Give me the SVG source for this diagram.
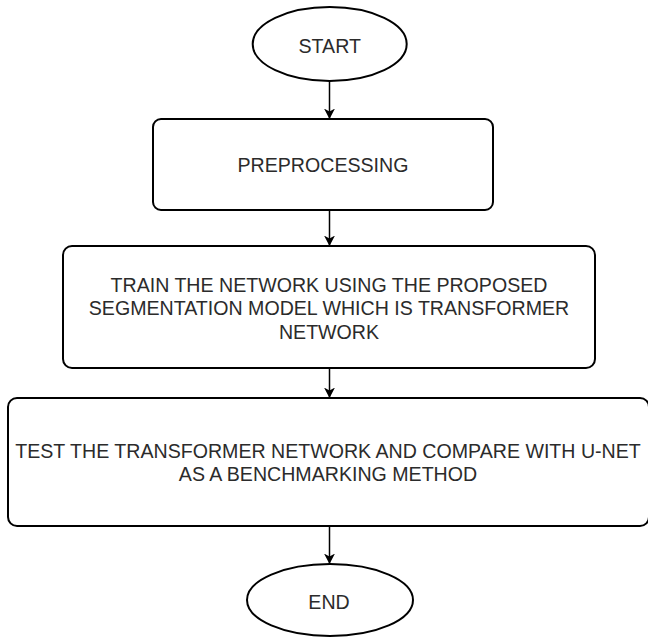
<svg xmlns="http://www.w3.org/2000/svg" width="648" height="638" viewBox="0 0 648 638">
  <style>
    .shape { fill: #ffffff; stroke: #000000; stroke-width: 2; }
    .label { font-family: "Liberation Sans", Arial, sans-serif; font-size: 19.6px; fill: #2b2b2b; text-anchor: middle; }
    .edge { fill: none; stroke: #000000; stroke-width: 1.5; marker-end: url(#arrow); }
  </style>
  <defs>
    <marker id="arrow" markerUnits="userSpaceOnUse" markerWidth="11" markerHeight="12" viewBox="0 0 11 12" refX="10.5" refY="6" orient="auto">
      <path d="M0,0.5 L10.5,6 L0,11.5 L3,6 Z" fill="#000000"/>
    </marker>
  </defs>
  <rect width="648" height="638" fill="#ffffff"/>

  <g id="connectors">
    <path class="edge" d="M329.5,81 V119"/>
    <path class="edge" d="M329.5,210 V246"/>
    <path class="edge" d="M329.5,368 V398"/>
    <path class="edge" d="M329.5,526 V564"/>
  </g>

  <g id="start">
    <ellipse class="shape" cx="329.7" cy="44" rx="77" ry="37"/>
    <text class="label" x="329.7" y="52.5">START</text>
  </g>

  <g id="preprocessing">
    <rect class="shape" x="153" y="119" width="340" height="91" rx="8"/>
    <text class="label" x="323" y="171.5">PREPROCESSING</text>
  </g>

  <g id="train">
    <rect class="shape" x="63" y="246" width="532" height="122" rx="9"/>
    <text class="label" x="329" y="291.5">TRAIN THE NETWORK USING THE PROPOSED</text>
    <text class="label" x="329" y="315">SEGMENTATION MODEL WHICH IS TRANSFORMER</text>
    <text class="label" x="329" y="338.5">NETWORK</text>
  </g>

  <g id="test">
    <rect class="shape" x="8" y="398" width="641" height="128" rx="9"/>
    <text class="label" x="328" y="457.5">TEST THE TRANSFORMER NETWORK AND COMPARE WITH U-NET</text>
    <text class="label" x="328" y="481">AS A BENCHMARKING METHOD</text>
  </g>

  <g id="end">
    <ellipse class="shape" cx="330" cy="600" rx="83" ry="36"/>
    <text class="label" x="329" y="609">END</text>
  </g>
</svg>
